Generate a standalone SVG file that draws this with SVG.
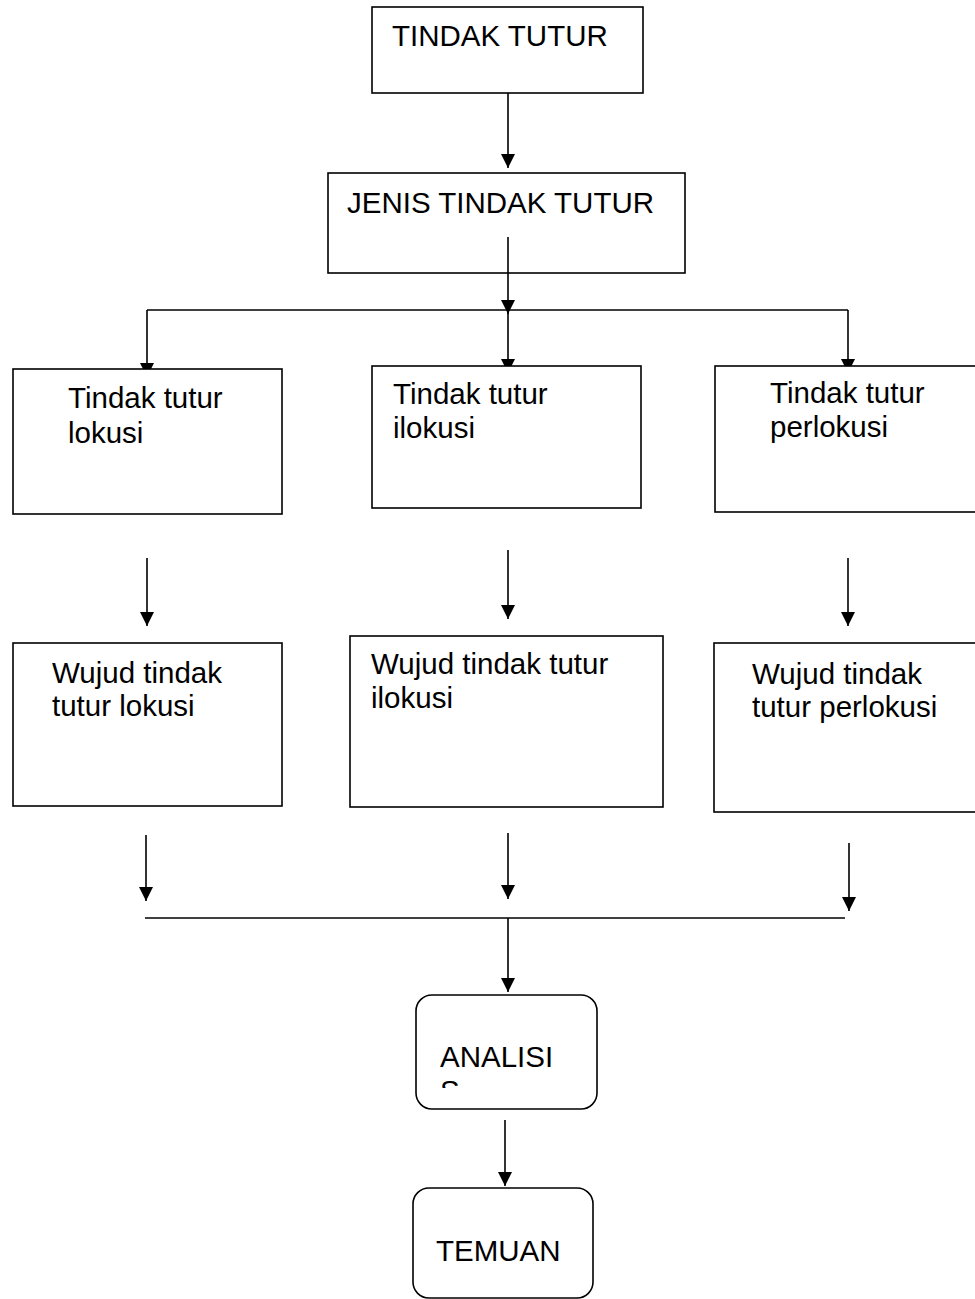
<svg xmlns="http://www.w3.org/2000/svg" width="975" height="1299" viewBox="0 0 975 1299">
<style>
.box{fill:#fff;stroke:#000;stroke-width:1.6}
.ln{fill:none;stroke:#000;stroke-width:1.6}
.t{font-family:"Liberation Sans",Arial,sans-serif;font-size:29.5px;fill:#000}
</style>
<defs>
<marker id="ah" markerUnits="userSpaceOnUse" markerWidth="14" markerHeight="16" viewBox="0 0 14 16" refX="14" refY="8" orient="auto">
<path d="M0,1 L14,8 L0,15 Z" fill="#000"/>
</marker>
<clipPath id="clipA"><rect x="416" y="995" width="181" height="93"/></clipPath>
</defs>
<rect width="975" height="1299" fill="#fff"/>
<g id="connectors">
<line class="ln" x1="508" y1="92" x2="508" y2="168" marker-end="url(#ah)"/>
<line class="ln" x1="508" y1="237" x2="508" y2="314" marker-end="url(#ah)"/>
<line class="ln" x1="147" y1="310" x2="848" y2="310"/>
<line class="ln" x1="147" y1="310" x2="147" y2="377" marker-end="url(#ah)"/>
<line class="ln" x1="508" y1="310" x2="508" y2="373" marker-end="url(#ah)"/>
<line class="ln" x1="848" y1="310" x2="848" y2="373" marker-end="url(#ah)"/>
<line class="ln" x1="147" y1="558" x2="147" y2="626" marker-end="url(#ah)"/>
<line class="ln" x1="508" y1="550" x2="508" y2="619" marker-end="url(#ah)"/>
<line class="ln" x1="848" y1="558" x2="848" y2="626" marker-end="url(#ah)"/>
<line class="ln" x1="146" y1="835" x2="146" y2="901" marker-end="url(#ah)"/>
<line class="ln" x1="508" y1="833" x2="508" y2="899" marker-end="url(#ah)"/>
<line class="ln" x1="849" y1="843" x2="849" y2="911" marker-end="url(#ah)"/>
<line class="ln" x1="145" y1="918" x2="845" y2="918"/>
<line class="ln" x1="508" y1="918" x2="508" y2="992" marker-end="url(#ah)"/>
<line class="ln" x1="505" y1="1120" x2="505" y2="1186" marker-end="url(#ah)"/>
</g>
<g id="n-tindak-tutur">
<rect class="box" x="372" y="7" width="271" height="86"/>
<text class="t" x="392" y="46">TINDAK TUTUR</text>
</g>
<g id="n-jenis">
<rect class="box" x="328" y="173" width="357" height="100"/>
<text class="t" x="347" y="213">JENIS TINDAK TUTUR</text>
<line class="ln" x1="508" y1="237" x2="508" y2="273"/>
</g>
<g id="n-lokusi">
<rect class="box" x="13" y="369" width="269" height="145"/>
<text class="t" x="68" y="408">Tindak tutur</text>
<text class="t" x="68" y="443">lokusi</text>
</g>
<g id="n-ilokusi">
<rect class="box" x="372" y="366" width="269" height="142"/>
<text class="t" x="393" y="404">Tindak tutur</text>
<text class="t" x="393" y="438">ilokusi</text>
</g>
<g id="n-perlokusi">
<rect class="box" x="715" y="366" width="275" height="146"/>
<text class="t" x="770" y="403">Tindak tutur</text>
<text class="t" x="770" y="437">perlokusi</text>
</g>
<g id="n-wujud-lokusi">
<rect class="box" x="13" y="643" width="269" height="163"/>
<text class="t" x="52" y="683">Wujud tindak</text>
<text class="t" x="52" y="716">tutur lokusi</text>
</g>
<g id="n-wujud-ilokusi">
<rect class="box" x="350" y="636" width="313" height="171"/>
<text class="t" x="371" y="674">Wujud tindak tutur</text>
<text class="t" x="371" y="708">ilokusi</text>
</g>
<g id="n-wujud-perlokusi">
<rect class="box" x="714" y="643" width="276" height="169"/>
<text class="t" x="752" y="684">Wujud tindak</text>
<text class="t" x="752" y="717">tutur perlokusi</text>
</g>
<g id="n-analisis">
<rect class="box" x="416" y="995" width="181" height="114" rx="16" ry="16"/>
<g clip-path="url(#clipA)">
<text class="t" x="440" y="1067">ANALISI</text>
<text class="t" x="440" y="1101">S</text>
</g>
</g>
<g id="n-temuan">
<rect class="box" x="413" y="1188" width="180" height="110" rx="16" ry="16"/>
<text class="t" x="436" y="1261">TEMUAN</text>
</g>
</svg>
